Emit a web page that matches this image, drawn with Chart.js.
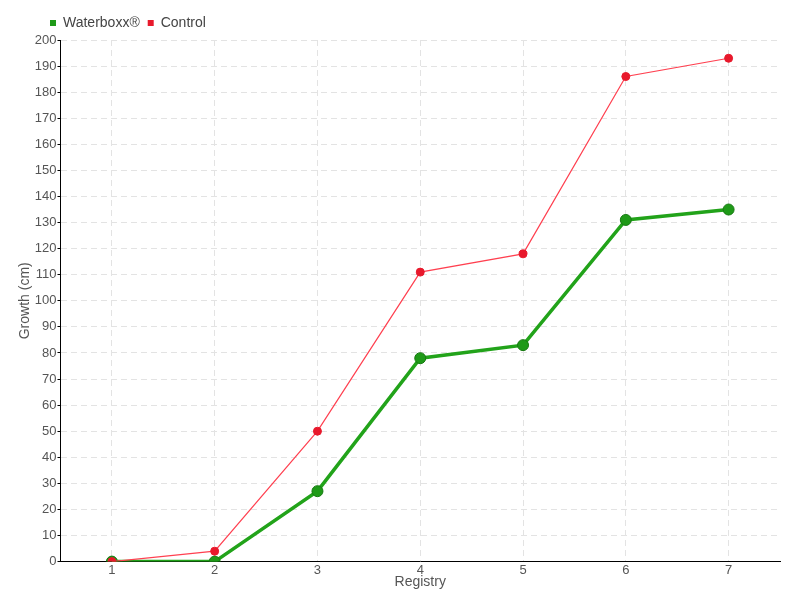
<!DOCTYPE html>
<html>
<head>
<meta charset="utf-8">
<script src="https://cdn.jsdelivr.net/npm/chart.js@4"></script>
<style>
  html, body { margin: 0; padding: 0; background: #fff; }
  #wrap { width: 800px; height: 600px; }
</style>
</head>
<body>
<div id="wrap"><canvas id="chart"></canvas></div>
<script>
const registries = ["1", "2", "3", "4", "5", "6", "7"];
const waterboxx = [0, 0, 27, 78, 83, 131, 135];
const control = [0, 4, 50, 111, 118, 186, 193];

const font = "'Liberation Sans', 'DejaVu Sans', sans-serif";
Chart.defaults.font.family = font;
Chart.defaults.color = '#555';

// shift the legend right so it starts over the axis like the original
const legendShift = {
  id: 'legendShift',
  afterLayout(chart) {
    chart.legend.left += 29;
    chart.legend.right += 29;
  }
};

new Chart(document.getElementById('chart'), {
  type: 'line',
  data: {
    labels: registries,
    datasets: [{
      label: 'Waterboxx®',
      data: waterboxx,
      borderColor: '#22a31a',
      backgroundColor: '#1f9a18',
      pointBorderColor: '#177a12',
      borderWidth: 3.5,
      pointRadius: 5.5,
      pointBorderWidth: 1,
      order: 1
    }, {
      label: 'Control',
      data: control,
      borderColor: '#ff4050',
      backgroundColor: '#e8192c',
      pointBorderColor: '#e8192c',
      borderWidth: 1.2,
      pointRadius: 4,
      pointBorderWidth: 1,
      order: 0
    }]
  },
  options: {
    responsive: true,
    maintainAspectRatio: false,
    animation: false,
    layout: { padding: { left: 13, right: 20, top: 8, bottom: 4 } },
    plugins: {
      legend: {
        align: 'start',
        labels: {
          boxWidth: 6,
          boxHeight: 6,
          padding: 8,
          font: { size: 14 },
          generateLabels: chart => chart.data.datasets.map((ds, i) => ({
            text: ds.label,
            fillStyle: ds.backgroundColor,
            strokeStyle: ds.backgroundColor,
            lineWidth: 0,
            datasetIndex: i,
            fontColor: '#444'
          }))
        }
      },
      tooltip: { enabled: false }
    },
    scales: {
      x: {
        offset: true,
        grid: { color: '#e3e3e3', drawTicks: false },
        border: { color: '#000', width: 1, dash: [6, 4] },
        ticks: { font: { size: 13 }, padding: 1 },
        title: { display: true, text: 'Registry', font: { size: 14 }, padding: { top: -5, bottom: 5 } }
      },
      y: {
        min: 0,
        max: 200,
        grid: { color: '#e3e3e3', tickColor: '#000', tickLength: 3 },
        border: { color: '#000', width: 1, dash: [6, 4] },
        ticks: { stepSize: 10, font: { size: 13 }, padding: 1 },
        title: { display: true, text: 'Growth (cm)', font: { size: 14 }, padding: { top: 4, bottom: 0 } }
      }
    }
  },
  plugins: [legendShift]
});
</script>
</body>
</html>
